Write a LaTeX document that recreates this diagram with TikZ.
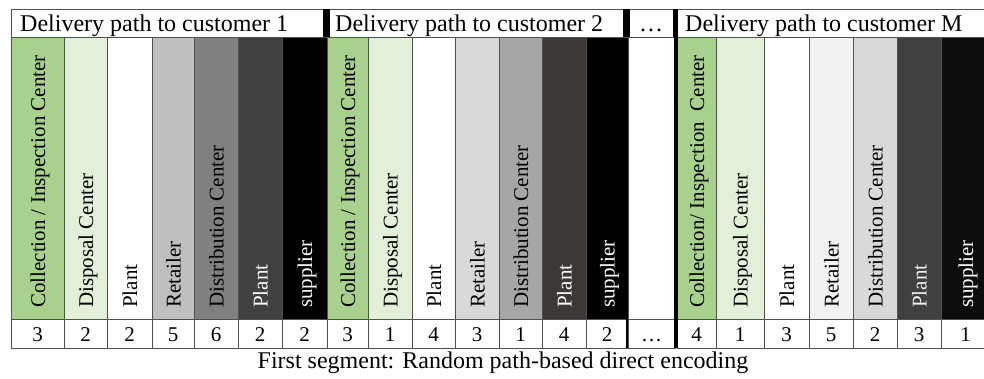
\documentclass[tikz,border=0pt]{standalone}
\usepackage{fontspec}
\setmainfont{Liberation Serif}
\definecolor{cgreen}{HTML}{A9D18E}
\definecolor{clgreen}{HTML}{E2F0D9}
\definecolor{ga}{HTML}{BFBFBF}
\definecolor{gb}{HTML}{808080}
\definecolor{gc}{HTML}{404040}
\definecolor{gd}{HTML}{D9D9D9}
\definecolor{ge}{HTML}{A6A6A6}
\definecolor{gf}{HTML}{3B3838}
\definecolor{gg}{HTML}{F2F2F2}
\definecolor{gh}{HTML}{0D0D0D}
\definecolor{linec}{HTML}{505050}
\begin{document}
\begin{tikzpicture}[x=1pt,y=-1pt,
  gridline/.style={draw=linec,line width=0.9pt},
  vlab/.style={rotate=90,anchor=base west,inner sep=0pt,font=\fontsize{21}{25}\selectfont},
  numlab/.style={anchor=base,inner sep=0pt,font=\fontsize{21}{25}\selectfont},
  headlab/.style={anchor=base west,inner sep=0pt,font=\fontsize{24}{28}\selectfont},
  caplab/.style={anchor=base,inner sep=0pt,font=\fontsize{24}{28}\selectfont},
  sepbar/.style={fill=black}]
\useasboundingbox[fill=white] (0,0) rectangle (984,379);
% header row
\draw[gridline,fill=white] (11,9) rectangle (990,37);
\fill[sepbar] (323,9) rectangle (330,37);
\fill[sepbar] (623,9) rectangle (630,37);
\fill[sepbar] (673,9) rectangle (678,37);
\node[headlab] (h1) at (20,32) {Delivery path to customer 1};
\node[headlab] (h2) at (335,32) {Delivery path to customer 2};
\node[anchor=base,inner sep=0pt,font=\fontsize{24}{28}\selectfont] (hd) at (651,32) {…};
\node[headlab] (h3) at (685,32) {Delivery path to customer M};
% columns
\foreach \a/\b/\c/\d/\e/\f [count=\i] in {
11/64/cgreen/black/{Collection / Inspection Center}/3,
64/107/clgreen/black/{Disposal Center}/2,
107/152/white/black/{Plant}/2,
152/194/ga/black/{Retailer}/5,
194/238/gb/black/{Distribution Center}/6,
238/282/gc/white/{Plant}/2,
282/327/black/white/{supplier}/2,
327/368/cgreen/black/{Collection / Inspection Center}/3,
368/412/clgreen/black/{Disposal Center}/1,
412/455/white/black/{Plant}/4,
455/499/gd/black/{Retailer}/3,
499/542/ge/black/{Distribution Center}/1,
542/586/gf/white/{Plant}/4,
586/628/black/white/{supplier}/2,
677/716/cgreen/black/{Collection/ Inspection\ \ Center}/4,
716/764/clgreen/black/{Disposal Center}/1,
764/809/white/black/{Plant}/3,
809/853/gg/black/{Retailer}/5,
853/897/gd/black/{Distribution Center}/2,
897/941/gc/white!88!gray/{Plant}/3,
941/990/gh/white/{supplier}/1}{
  \draw[gridline,fill=\c] (\a,37) rectangle (\b,319);
  \node[vlab,text=\d] (lab\i) at ({(\a+\b)/2+7.5},308) {\e};
  \draw[gridline,fill=white] (\a,319) rectangle (\b,348);
  \node[numlab] (num\i) at ({(\a+\b)/2},341) {\f};
}
% dots column
\draw[gridline,fill=white] (628,37) rectangle (675,319);
\draw[gridline,fill=white] (628,319) rectangle (675,348);
\node[numlab] (nd) at (651.5,341) {…};
% separators
\draw[line width=2.2pt] (627,319) -- (627,348);
\draw[line width=4pt] (675.5,37) -- (675.5,348);
% caption
\node[caplab] (cap) at (503,368) {First segment: Random path-based direct encoding};
\end{tikzpicture}
\end{document}
